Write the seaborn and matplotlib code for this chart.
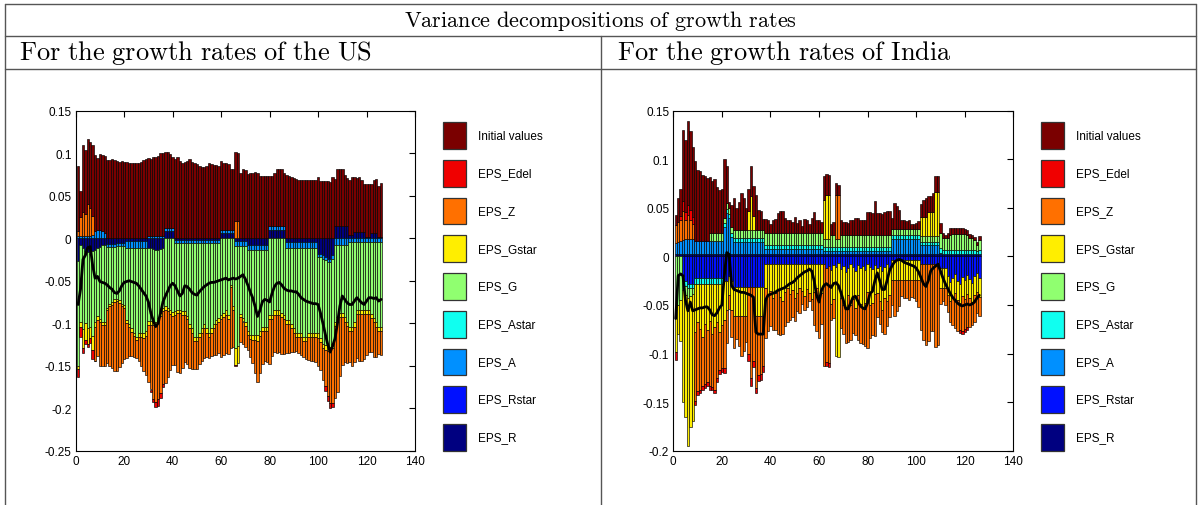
import numpy as np
import matplotlib
matplotlib.use("Agg")
import matplotlib.pyplot as plt
import seaborn as sns
from matplotlib.patches import Rectangle
from matplotlib.lines import Line2D
from matplotlib.ticker import FuncFormatter

# ---------------- data (periods 1..126) ----------------
periods = list(range(1, 127))

component_names = ["Initial values", "EPS_Edel", "EPS_Z", "EPS_Gstar", "EPS_G",
                   "EPS_Astar", "EPS_A", "EPS_Rstar", "EPS_R"]

# ---------- US ----------
us_init = [0.076,0.031,0.079,0.076,0.077,0.077,0.084,0.090,0.084,0.089,0.090,0.091,
           0.092,0.092,0.093,0.092,0.091,0.090,0.091,0.090,
           0.090,0.089,0.088,0.088,0.088,0.089,0.090,0.092,0.093,
           0.091,0.090,0.093,0.092,0.094,0.097,0.097,
           0.090,0.089,0.087,0.084,
           0.093,0.095,0.091,0.088,0.090,0.091,0.093,0.090,0.088,0.087,0.085,0.084,0.084,0.085,0.088,0.087,0.086,0.086,0.085,
           0.081,0.079,0.078,0.077,0.071,0.071,
           0.082,0.080,
           0.077,0.081,0.080,
           0.076,0.077,0.077,0.078,0.077,0.073,0.073,0.073,0.073,
           0.059,0.059,0.063,0.068,0.068,0.067,0.063,
           0.074,0.073,0.072,0.071,0.070,0.069,0.068,0.068,0.068,0.068,0.068,0.068,0.069,
           0.072,0.067,0.067,0.067,0.067,0.066,0.072,
           0.056,0.067,0.068,0.067,0.060,0.057,
           0.064,0.068,
           0.065,0.064,0.065,0.062,0.057,
           0.062,0.062,
           0.058,0.063,0.064,
           0.060,0.063]
us_edel = [-0.009,-0.012,-0.006,-0.004,-0.004,-0.006,-0.010,-0.001,
           0,0,0,0,0,0,0,0,0,0,0,0,0,0,0,0,0,0,0,0,0,0,
           -0.003,-0.004,-0.006,-0.008,-0.006,-0.004,
           0,0,0,0,0,0,0,0,0,0,0,0,0,0,0,0,0,0,0,0,0,0,0,0,0,0,0,0,0,
           -0.001,
           0,0,0,0,0,0,0,0,0,0,0,0,0,0,0,0,0,0,0,0,0,0,0,0,0,0,0,0,0,0,0,0,0,0,0,0,
           -0.006,-0.006,-0.006,-0.005,
           0,0,0,0,0,0,0,0,0,0,0,0,0,0,0,0,0,0,0,0]
us_z = [0.006,0.022,0.028,0.025,0.037,0.033,0.022,
        -0.040,-0.043,-0.052,-0.048,-0.048,
        -0.062,-0.070,-0.075,-0.081,-0.082,-0.076,-0.067,-0.060,
        -0.041,-0.034,-0.029,-0.025,-0.021,-0.029,-0.034,-0.039,-0.046,
        -0.067,-0.076,-0.087,-0.090,-0.091,-0.090,-0.085,
        -0.086,-0.077,-0.066,-0.058,
        -0.059,-0.069,-0.071,-0.063,-0.056,-0.053,-0.047,-0.043,-0.033,-0.033,-0.032,-0.033,-0.035,-0.029,-0.025,-0.028,-0.032,-0.036,-0.036,
        -0.045,-0.044,-0.045,-0.041,-0.072,-0.044,
        0.020,0.020,
        -0.029,-0.026,-0.025,
        -0.017,-0.021,-0.027,-0.038,-0.048,-0.043,-0.039,-0.036,-0.037,
        -0.053,-0.043,-0.044,-0.045,-0.044,-0.043,-0.041,
        -0.034,-0.034,-0.028,-0.023,-0.017,-0.019,-0.022,-0.019,-0.021,-0.027,-0.028,-0.029,-0.030,
        -0.033,-0.033,-0.038,-0.043,-0.053,-0.061,-0.065,
        -0.085,-0.083,-0.069,-0.056,-0.048,-0.044,
        -0.037,-0.041,
        -0.042,-0.052,-0.056,-0.056,-0.053,
        -0.049,-0.045,
        -0.040,-0.041,-0.036,
        -0.027,-0.028]
us_gstar = [-0.004,-0.006,-0.022,-0.020,-0.018,-0.012,-0.017,
            -0.005,-0.004,-0.003,-0.004,-0.004,
            -0.003,-0.003,-0.003,-0.003,-0.003,-0.003,-0.003,-0.003,
            -0.004,-0.004,-0.004,-0.004,-0.004,-0.005,-0.005,-0.006,-0.006,
            -0.005,-0.005,-0.004,-0.004,-0.004,-0.004,-0.004,
            -0.004,-0.004,-0.004,-0.004,
            -0.004,-0.004,-0.004,-0.004,-0.004,-0.004,
            -0.005,-0.005,-0.005,-0.005,-0.005,-0.005,-0.005,-0.005,-0.005,-0.005,-0.005,-0.005,-0.005,
            -0.005,-0.005,-0.005,-0.005,-0.002,-0.004,
            -0.020,-0.020,
            -0.004,-0.004,-0.004,
            -0.005,-0.005,-0.006,-0.006,-0.007,-0.006,-0.005,-0.005,-0.005,
            -0.005,-0.005,-0.005,-0.005,-0.005,-0.005,-0.005,-0.005,-0.005,-0.005,
            -0.005,-0.005,-0.005,-0.005,-0.005,-0.005,-0.005,-0.005,-0.005,-0.005,
            -0.005,-0.005,-0.005,-0.005,-0.005,-0.005,-0.005,-0.005,-0.005,-0.005,
            -0.005,-0.005,-0.005,-0.005,-0.005,-0.005,-0.005,-0.005,-0.005,-0.005,
            -0.005,-0.005,-0.005,-0.005,-0.005,-0.005,-0.005]
us_g = [-0.123,-0.090,-0.095,-0.085,-0.090,-0.087,-0.100,-0.085,-0.080,-0.085,-0.090,-0.090,
        -0.072,-0.067,-0.065,-0.062,-0.062,-0.064,-0.068,-0.070,
        -0.085,-0.090,-0.095,-0.100,-0.105,-0.100,-0.100,-0.100,-0.098,
        -0.085,-0.085,-0.085,-0.085,-0.080,-0.075,-0.070,
        -0.080,-0.082,-0.085,-0.087,
        -0.080,-0.078,-0.078,-0.080,-0.080,-0.085,-0.095,-0.100,-0.110,-0.110,-0.105,-0.100,-0.095,-0.100,-0.105,-0.100,-0.095,-0.090,-0.088,
        -0.090,-0.088,-0.085,-0.090,-0.055,-0.080,
        -0.120,-0.118,
        -0.080,-0.085,-0.090,
        -0.095,-0.100,-0.100,-0.100,-0.100,-0.095,-0.090,-0.090,-0.090,
        -0.090,-0.090,-0.085,-0.085,-0.085,-0.088,-0.090,
        -0.085,-0.085,-0.090,-0.095,-0.100,-0.100,-0.100,-0.105,-0.105,-0.100,-0.100,-0.100,-0.100,
        -0.090,-0.095,-0.100,-0.100,-0.100,-0.100,-0.100,
        -0.090,-0.085,-0.080,-0.080,-0.085,-0.090,
        -0.100,-0.100,
        -0.095,-0.080,-0.080,-0.080,-0.080,
        -0.080,-0.080,
        -0.085,-0.090,-0.095,
        -0.100,-0.100]
us_astar = [0.0] * 126
us_a = [0.003,0.003,0.003,0.003,0.003,0.003,0.004,0.008,0.010,0.010,0.008,0.006,
        -0.003,-0.003,-0.003,-0.003,-0.003,-0.003,-0.003,-0.003,
        -0.008,-0.008,-0.008,-0.008,-0.008,-0.008,-0.008,-0.008,-0.008,
        0.003,0.003,0.003,0.003,0.003,0.003,0.003,
        0.004,0.004,0.004,0.004,
        -0.004,-0.004,-0.004,-0.004,-0.004,-0.004,-0.004,-0.004,-0.004,-0.004,
        -0.004,-0.004,-0.004,-0.004,-0.004,-0.004,-0.004,-0.004,-0.004,
        0.004,0.004,0.004,0.004,0.004,0.004,
        -0.006,-0.006,-0.006,-0.006,-0.006,-0.006,-0.006,-0.006,-0.006,-0.006,-0.006,-0.006,-0.006,-0.006,
        0.004,0.004,0.004,0.004,0.004,0.004,0.004,
        -0.007,-0.007,-0.007,-0.007,-0.007,-0.007,-0.007,-0.007,-0.007,-0.007,-0.007,-0.007,-0.007,
        -0.004,-0.004,-0.004,-0.004,-0.004,-0.004,-0.004,
        -0.008,-0.008,-0.008,-0.008,-0.008,-0.008,
        -0.004,-0.004,-0.004,-0.004,-0.004,-0.004,-0.004,-0.004,-0.004,-0.004,-0.004,-0.004,-0.004,-0.004]
us_rstar = [0.0] * 126
us_r = [-0.027,-0.008,-0.012,-0.015,-0.016,-0.018,-0.015,-0.014,-0.012,-0.010,-0.008,-0.008,
        -0.007,-0.007,-0.007,-0.007,-0.006,-0.006,-0.006,-0.006,
        -0.003,-0.003,-0.003,-0.003,-0.003,-0.003,-0.003,-0.003,-0.003,
        -0.012,-0.012,-0.013,-0.014,-0.014,-0.013,-0.012,
        0.008,0.008,0.008,0.008,
        -0.002,-0.002,-0.002,-0.002,-0.002,-0.002,-0.002,-0.002,-0.002,-0.002,
        -0.002,-0.002,-0.002,-0.002,-0.002,-0.002,-0.002,-0.002,-0.002,
        0.006,0.006,0.006,0.006,0.006,0.006,
        -0.003,-0.003,-0.003,-0.003,-0.003,
        -0.008,-0.008,-0.008,-0.008,-0.008,-0.008,-0.008,-0.008,-0.008,
        0.010,0.010,0.010,0.010,0.010,0.010,0.010,
        -0.004,-0.004,-0.004,-0.004,-0.004,-0.004,-0.004,-0.004,-0.004,-0.004,-0.004,-0.004,-0.004,
        -0.018,-0.018,-0.020,-0.022,-0.024,-0.024,-0.020,
        0.014,0.014,0.014,0.014,0.014,0.014,
        0.004,0.004,
        0.007,0.007,0.007,0.007,0.007,
        0.002,0.002,
        0.006,0.006,0.006,
        0.002,0.002]

# ---------- India ----------
in_init = [0.011,0.025,0.027,0.073,0.074,0.086,0.081,0.072,
           0.082,0.073,0.072,0.068,0.067,0.065,0.058,0.054,0.056,0.047,0.044,0.045,
           0.060,0.038,0.006,0.023,
           0.033,0.023,0.029,0.038,0.033,0.023,
           0.022,0.031,0.030,
           0.036,0.021,0.020,0.012,
           0.015,0.013,0.009,0.014,0.015,0.021,0.023,0.023,0.016,0.013,0.013,0.011,
           0.017,0.010,0.014,0.007,0.015,0.013,0.009,0.016,0.022,0.013,0.013,0.011,
           0.025,0.022,0.021,
           0.011,0.013,
           0.013,0.011,
           0.015,0.013,0.013,0.012,0.016,0.015,0.018,0.018,0.016,0.015,0.016,
           0.024,0.024,0.023,0.035,0.023,0.023,0.022,0.024,0.025,0.025,
           0.012,0.027,0.024,0.020,0.009,0.009,0.008,0.009,0.005,0.005,0.006,0.008,
           0.013,0.017,0.019,0.016,0.016,0.019,0.017,0.017,
           0.010,0.005,0.003,0.005,0.007,0.006,0.006,0.006,0.006,0.006,0.005,0.005,0.004,0.003,0.003,0.003,0.004]
in_edel = [-0.009,0,0.004,0.010,0.008,0.010,0.010,0.008,
           -0.004,-0.004,-0.004,-0.004,-0.004,-0.004,-0.004,-0.004,-0.004,-0.004,-0.004,-0.004,
           -0.005,0,0,0,0,0,0,0,0,0,
           -0.008,-0.008,-0.006,-0.006,-0.006,-0.006,-0.006,
           0,0,0,0,0,0,0,0,0,0,0,0,0,0,0,0,0,0,0,0,0,0,0,0,0,
           -0.004,-0.004,
           0,0,0,0,0,0,0,0,0,0,0,0,0,0,0,0,0,0,0,0,0,0,0,0,0,0,
           0,0,0,0,0,0,0,0,0,0,0,0,0,0,0,0,0,0,0,0,0,0,0,0,0,0,0,
           -0.003,-0.003,-0.003,-0.003,
           0,0,0,0,0]
in_z = [0.018,0.020,0.022,0.030,0.020,0.025,0.020,0.015,
        -0.071,-0.071,-0.062,-0.050,-0.061,-0.053,-0.067,-0.054,-0.064,-0.057,-0.039,-0.044,
        -0.050,-0.034,-0.014,-0.028,
        -0.033,-0.024,-0.031,-0.041,-0.036,-0.027,
        -0.069,-0.094,-0.077,
        -0.074,-0.061,-0.060,-0.052,
        -0.051,-0.037,-0.036,-0.033,-0.038,-0.046,-0.039,-0.034,-0.035,-0.035,-0.026,-0.027,
        -0.023,-0.018,-0.026,-0.013,-0.014,-0.018,-0.008,-0.011,-0.034,-0.044,-0.044,-0.032,
        -0.105,-0.097,-0.100,
        -0.016,-0.019,
        0.045,0.045,
        -0.031,-0.030,-0.037,-0.048,-0.036,-0.035,-0.028,-0.046,-0.040,-0.036,-0.044,
        -0.057,-0.034,-0.033,-0.043,-0.024,-0.024,-0.023,-0.037,-0.026,-0.022,
        -0.026,-0.037,-0.032,-0.027,-0.017,-0.019,-0.019,-0.021,-0.018,-0.019,-0.022,-0.028,
        -0.068,-0.078,-0.083,-0.079,-0.069,-0.069,-0.085,-0.083,
        -0.017,-0.014,-0.018,
        -0.017,-0.021,-0.029,-0.036,-0.032,-0.028,-0.036,-0.031,-0.034,-0.030,-0.024,-0.027,-0.021,-0.019]
in_gstar = [-0.043,-0.030,-0.042,
            -0.115,-0.125,-0.152,-0.135,-0.130,
            -0.050,-0.040,-0.047,-0.055,-0.042,-0.048,-0.038,-0.052,-0.045,-0.040,-0.050,-0.043,
            -0.040,-0.030,-0.020,-0.030,
            -0.030,-0.030,-0.030,-0.030,-0.030,-0.030,
            0.020,0.035,0.015,
            -0.030,-0.030,-0.030,-0.030,
            -0.025,-0.032,-0.028,-0.035,-0.030,-0.026,-0.034,-0.038,-0.029,-0.024,-0.031,-0.027,
            -0.035,-0.030,-0.024,-0.028,-0.033,-0.026,-0.030,-0.036,-0.029,-0.025,-0.032,-0.030,
            0.040,0.045,0.045,
            -0.035,-0.035,
            -0.092,-0.097,
            -0.030,-0.040,-0.036,-0.028,-0.042,-0.033,-0.038,-0.031,-0.037,-0.044,-0.034,
            -0.029,-0.039,-0.035,-0.030,-0.026,-0.036,-0.040,-0.032,-0.038,-0.028,
            -0.020,-0.020,-0.020,-0.020,-0.020,-0.020,-0.020,-0.020,-0.020,-0.020,-0.020,-0.020,
            0.020,0.020,0.020,0.025,0.025,0.025,0.045,0.045,
            -0.020,-0.020,-0.020,-0.020,-0.020,-0.020,-0.020,-0.020,-0.020,
            -0.020,-0.020,-0.020,-0.020,-0.020,-0.020,-0.020,-0.020]
in_g = [-0.055,-0.050,-0.045,
        -0.010,-0.010,-0.010,-0.008,-0.006,
        0,0,0,0,0,0,
        0.008,0.008,0.008,0.008,0.008,0.008,
        0.006,0.006,0.006,0.006,
        0.008,0.008,0.008,0.008,0.008,0.008,0.008,0.008,0.008,0.008,0.008,0.008,0.008,
        0.012,0.012,0.012,0.012,0.012,0.012,0.012,0.012,0.012,0.012,0.012,0.012,
        0.012,0.012,0.012,0.012,0.012,0.012,0.012,0.012,0.012,0.012,0.012,0.012,
        0.008,0.008,0.008,
        0.012,0.012,
        0.008,0.008,
        0.012,0.012,0.012,0.012,0.012,0.012,0.012,0.012,0.012,0.012,0.012,
        0.012,0.012,0.012,0.012,0.012,0.012,0.012,0.012,0.012,0.012,
        0.006,0.006,0.006,0.006,0.006,0.006,0.006,0.006,0.006,0.006,0.006,0.006,
        0.006,0.006,0.006,0.006,0.006,0.006,0.006,0.006,
        0.015,0.012,0.012,0.012,0.015,
        0.016,0.016,0.016,0.016,0.016,0.016,
        0.015,0.012,0.012,0.010,0.006,0.010]
in_astar = [0,0,0,
            -0.005,-0.005,-0.005,-0.005,-0.005,
            -0.006,-0.006,-0.006,-0.006,-0.006,-0.006,-0.006,-0.006,-0.006,-0.006,-0.006,-0.006,
            0.004,0.004,0.004,0.004,0.004,0.004,0.004,0.004,0.004,0.004,
            0.004,0.004,0.004,0.004,0.004,0.004,0.004,
            0.004,0.004,0.004,0.004,0.004,0.004,0.004,0.004,0.004,0.004,0.004,0.004,
            0.004,0.004,0.004,0.004,0.004,0.004,0.004,0.004,0.004,0.004,0.004,0.004,
            0.004,0.004,0.004,0.004,0.004,0.004,0.004,0.004,0.004,0.004,
            0.004,0.004,0.004,0.004,0.004,0.004,0.004,0.004,0.004,0.004,
            0.004,0.004,0.004,0.004,0.004,0.004,0.004,0.004,0.004,0.004,
            0.004,0.004,0.004,0.004,0.004,0.004,0.004,0.004,0.004,0.004,
            0.003,0.003,0.003,0.003,0.003,0.003,0.003,0.003,
            0.005,
            0.004,0.004,0.004,0.004,0.004,0.004,0.004,0.004,0.004,0.004,0.004,0.004,0.004,0.004,
            0.003,0.004]
in_a = [0.011,0.012,0.013,
        0.014,0.015,0.015,0.015,0.015,
        0.013,0.013,0.013,0.013,0.013,0.013,0.013,0.013,0.013,0.013,0.013,0.013,
        0.027,0.042,0.037,0.017,
        0.012,0.012,0.012,0.012,0.012,0.012,0.012,0.012,0.012,0.012,0.012,0.012,0.012,
        0.005,0.005,0.005,0.005,0.005,0.005,0.005,0.005,0.005,0.005,0.005,0.005,
        0.005,0.005,0.005,0.005,0.005,0.005,0.005,0.005,0.005,0.005,0.005,0.005,
        0.003,0.003,0.003,0.003,0.003,0.003,0.003,0.003,0.003,0.003,0.003,0.003,0.003,0.003,
        0.003,0.003,0.003,0.003,0.003,0.003,0.003,0.003,0.003,0.003,0.003,0.003,0.003,0.003,
        0.015,0.015,0.015,0.015,0.015,0.015,0.015,0.015,0.015,0.015,0.015,0.015,
        0.009,0.009,0.009,0.009,0.009,0.009,0.009,0.009,
        0.001,
        0,0,0,0,0,0,0,0,0,0,0,0,0,0,0,0]
in_rstar = [0,0,0,
            -0.020,-0.025,-0.028,-0.028,-0.028,
            -0.022,-0.022,-0.022,-0.022,-0.022,-0.022,-0.022,-0.022,-0.022,-0.022,-0.022,-0.022,
            -0.025,-0.025,-0.020,-0.025,
            -0.031,-0.031,-0.031,-0.031,-0.031,-0.031,-0.031,-0.031,-0.031,-0.031,-0.031,-0.031,-0.031,
            -0.008,-0.008,-0.008,-0.008,-0.008,-0.008,-0.008,-0.008,-0.008,-0.008,-0.008,-0.008,
            -0.008,-0.008,-0.008,-0.008,-0.008,-0.008,-0.008,-0.008,-0.008,-0.008,-0.008,-0.008,
            -0.008,-0.012,-0.010,-0.014,-0.009,-0.011,-0.007,-0.013,-0.010,-0.016,-0.012,-0.008,-0.011,-0.015,
            -0.009,-0.012,-0.010,-0.014,-0.008,-0.011,-0.013,-0.009,-0.012,-0.010,-0.015,-0.011,-0.008,-0.012,
            -0.004,-0.004,-0.004,-0.004,-0.004,-0.004,-0.004,-0.004,-0.004,-0.004,-0.004,-0.004,
            -0.008,-0.008,-0.008,-0.008,-0.008,-0.008,-0.008,-0.008,
            -0.012,-0.012,-0.012,
            -0.020,-0.026,-0.022,-0.018,-0.025,-0.028,-0.021,-0.024,-0.019,-0.023,-0.027,-0.020,-0.017,-0.022]
in_r = [0.003] * 126

us_components = {"Initial values": us_init, "EPS_Edel": us_edel, "EPS_Z": us_z,
                 "EPS_Gstar": us_gstar, "EPS_G": us_g, "EPS_Astar": us_astar,
                 "EPS_A": us_a, "EPS_Rstar": us_rstar, "EPS_R": us_r}
in_components = {"Initial values": in_init, "EPS_Edel": in_edel, "EPS_Z": in_z,
                 "EPS_Gstar": in_gstar, "EPS_G": in_g, "EPS_Astar": in_astar,
                 "EPS_A": in_a, "EPS_Rstar": in_rstar, "EPS_R": in_r}

for tag, comps in (("US", us_components), ("India", in_components)):
    for k, v in comps.items():
        if len(v) != len(periods):
            raise ValueError(f"{tag} {k} has {len(v)} values")

# ---------------- style ----------------
colors = {"Initial values": "#7a0000", "EPS_Edel": "#f00000", "EPS_Z": "#ff7000",
          "EPS_Gstar": "#ffee00", "EPS_G": "#90ff70", "EPS_Astar": "#10fff0",
          "EPS_A": "#0090ff", "EPS_Rstar": "#0010ff", "EPS_R": "#000080"}
stack_order = list(reversed(component_names))   # EPS_R first, Initial values last

sns.set_style("white")
plt.rcParams['font.family'] = ['Liberation Sans', 'DejaVu Sans']
plt.rcParams['mathtext.fontset'] = 'cm'
plt.rcParams['axes.unicode_minus'] = False

W, H = 1199, 506
fig = plt.figure(figsize=(W / 100, H / 100), dpi=100)
fig.patch.set_facecolor("white")


def frac_rect(x0, y0, x1, y1):
    return [x0 / W, 1 - y1 / H, (x1 - x0) / W, (y1 - y0) / H]


def draw_panel(ax, comps, ylim, yticks):
    x = np.asarray(periods, float)
    pos_base = np.zeros(len(x))
    neg_base = np.zeros(len(x))
    total = np.zeros(len(x))
    for name in stack_order:
        v = np.asarray(comps[name], float)
        total += v
        for mask, base in ((v > 0, pos_base), (v < 0, neg_base)):
            if mask.any():
                ax.bar(x[mask], v[mask], bottom=base[mask], width=1.0,
                       color=colors[name], edgecolor="black", linewidth=0.45, zorder=2)
                base[mask] += v[mask]
    sns.lineplot(x=x, y=total, ax=ax, color="black", linewidth=2.0, zorder=3)
    ax.set_xlim(0, 140)
    ax.set_ylim(*ylim)
    ax.set_xticks(range(0, 141, 20))
    ax.set_yticks(yticks)
    ax.yaxis.set_major_formatter(FuncFormatter(lambda v, p: f"{round(v, 2):g}"))
    ax.tick_params(direction="in", top=True, right=True, length=4, width=0.8,
                   labelsize=8.5, pad=3, colors="black")
    for s in ax.spines.values():
        s.set_color("black")
        s.set_linewidth(0.8)
    ax.set_xlabel("")
    ax.set_ylabel("")


ax_us = fig.add_axes(frac_rect(75.7, 111.7, 415.0, 451.7))
draw_panel(ax_us, us_components, (-0.25, 0.15),
           [-0.25, -0.2, -0.15, -0.1, -0.05, 0, 0.05, 0.1, 0.15])
ax_in = fig.add_axes(frac_rect(673.3, 111.7, 1013.3, 451.7))
draw_panel(ax_in, in_components, (-0.2, 0.15),
           [-0.2, -0.15, -0.1, -0.05, 0, 0.05, 0.1, 0.15])

# legends
legend_order = component_names
for x0 in (443.0, 1041.0):
    for i, name in enumerate(legend_order):
        top = 123.3 + 37.7 * i
        fig.patches.append(Rectangle((x0 / W, 1 - (top + 26.7) / H), 23.3 / W, 26.7 / H,
                                     transform=fig.transFigure, facecolor=colors[name],
                                     edgecolor="#333333", linewidth=0.9))
        fig.text((x0 + 35) / W, 1 - (top + 13.3) / H, name, ha="left", va="center",
                 fontsize=8.5, color="black")

# table frame
line_kw = dict(transform=fig.transFigure, color="#555555", linewidth=1.0)


def hline(y, x0, x1):
    fig.add_artist(Line2D([x0 / W, x1 / W], [1 - y / H, 1 - y / H], **line_kw))


def vline(x, y0, y1):
    fig.add_artist(Line2D([x / W, x / W], [1 - y0 / H, 1 - y1 / H], **line_kw))


hline(5, 5, 1196)
hline(37, 5, 1196)
hline(70, 5, 1196)
vline(5, 5, 506)
vline(1196, 5, 506)
vline(601, 37, 506)

fig.text(600 / W, 1 - 21 / H, r"$\mathrm{Variance\ decompositions\ of\ growth\ rates}$",
         ha="center", va="center", fontsize=16, color="black")
fig.text(19 / W, 1 - 53 / H, r"$\mathrm{For\ the\ growth\ rates\ of\ the\ US}$",
         ha="left", va="center", fontsize=19, color="black")
fig.text(617 / W, 1 - 53 / H, r"$\mathrm{For\ the\ growth\ rates\ of\ India}$",
         ha="left", va="center", fontsize=19, color="black")

fig.savefig("out.png", dpi=100)
